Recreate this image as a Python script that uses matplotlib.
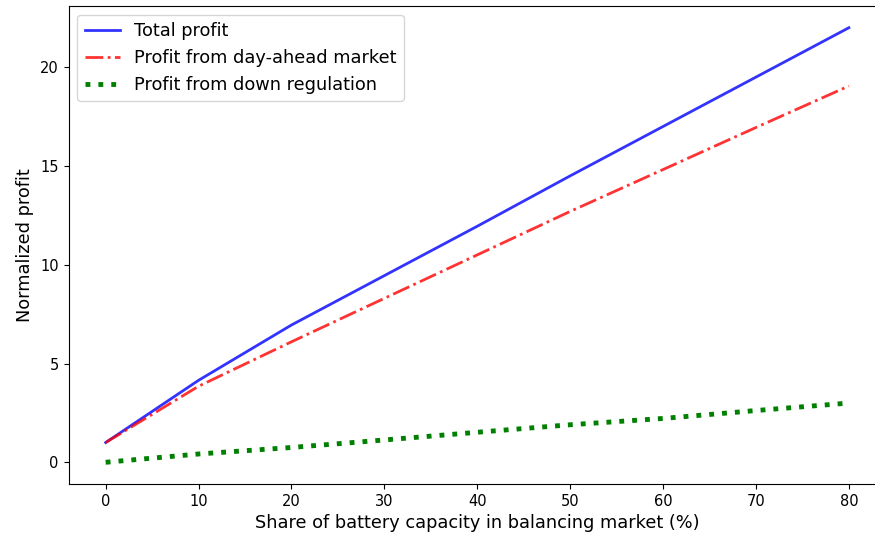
import matplotlib
matplotlib.use("Agg")
import matplotlib.pyplot as plt

share = [0, 10, 20, 30, 40, 50, 60, 70, 80]
total_profit = [1.0, 4.15, 6.95, 9.45, 11.95, 14.5, 17.0, 19.5, 22.0]
dayahead_profit = [1.0, 3.85, 6.1, 8.3, 10.5, 12.7, 14.82, 16.95, 19.05]
down_profit = [0.0, 0.42, 0.75, 1.13, 1.52, 1.9, 2.22, 2.62, 3.0]

fig = plt.figure(figsize=(8.75, 5.35), dpi=100)
ax = fig.add_axes([0.0783, 0.0953, 0.9343, 0.8935])
ax.plot(share, total_profit, color="blue", linestyle="-", linewidth=2, alpha=0.8, label="Total profit")
ax.plot(share, dayahead_profit, color="red", linestyle="-.", linewidth=2, alpha=0.8, label="Profit from day-ahead market")
ax.plot(share, down_profit, color="green", linestyle=":", linewidth=3.5, label="Profit from down regulation")
ax.set_xlabel("Share of battery capacity in balancing market (%)", fontsize=12.8)
ax.set_ylabel("Normalized profit", fontsize=12.8)
ax.set_xticks([0, 10, 20, 30, 40, 50, 60, 70, 80])
ax.set_yticks([0, 5, 10, 15, 20])
ax.tick_params(labelsize=10.5)
ax.spines["right"].set_visible(False)
ax.legend(loc="upper left", fontsize=12.8)
fig.savefig("out.png", dpi=100)
